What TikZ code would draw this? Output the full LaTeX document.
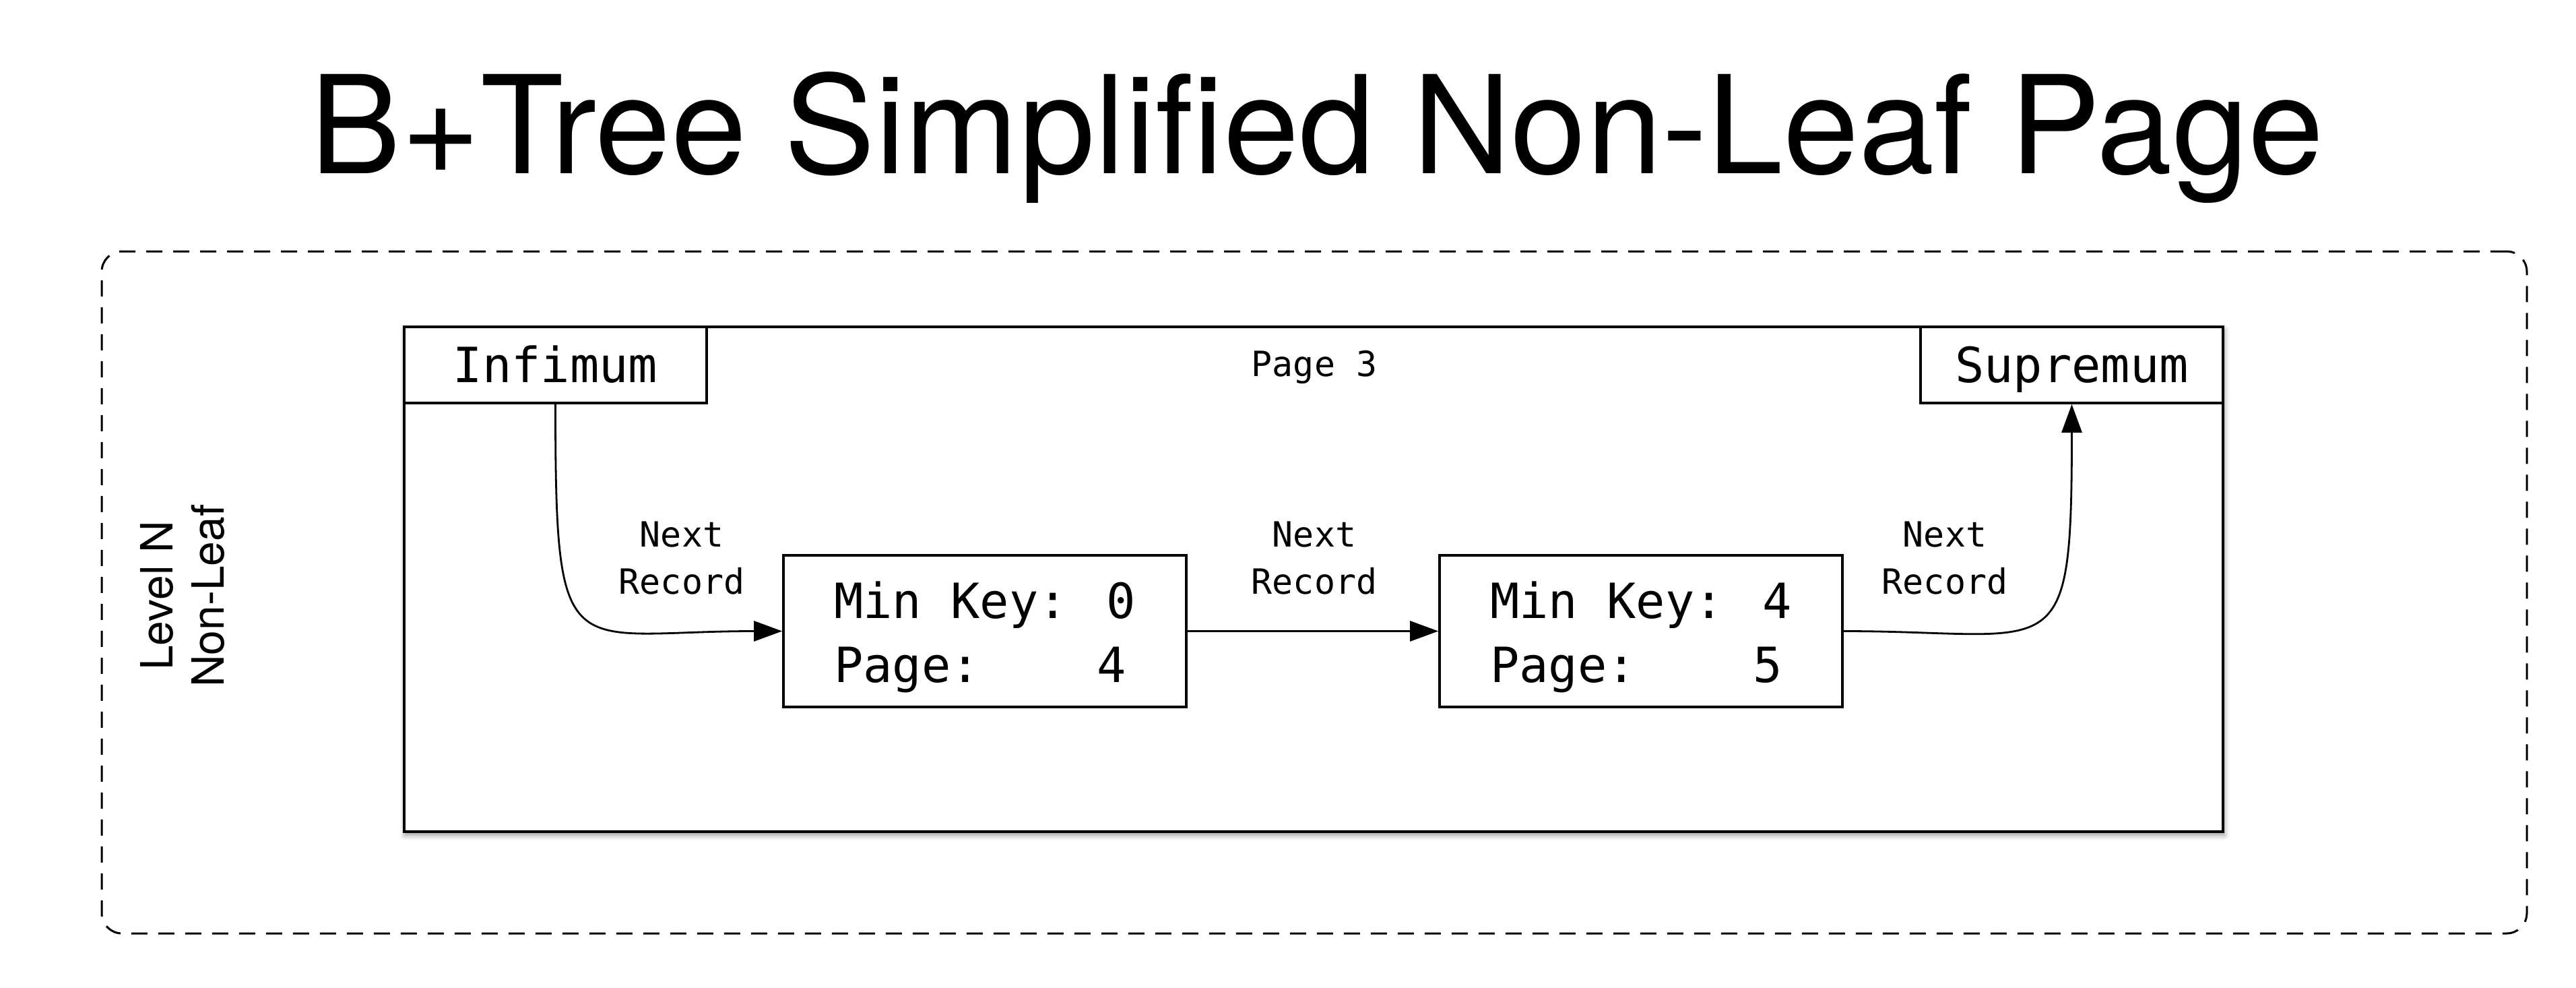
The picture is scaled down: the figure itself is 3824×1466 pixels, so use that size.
\documentclass[tikz,border=0pt]{standalone}
\usepackage{fontspec}
\setmainfont{TeX Gyre Heros}
\newfontfamily\codefont{DejaVu Sans Mono}
\usetikzlibrary{arrows.meta,shadows.blur}
\begin{document}
\begin{tikzpicture}[x=0.25pt,y=-0.25pt,
  box/.style={draw, line width=0.9pt, rectangle, inner sep=0pt, fill=white},
  keyfont/.style={font=\codefont\fontsize{18pt}{23.75pt}\selectfont},
  lblfont/.style={font=\codefont\fontsize{12.9pt}{17.5pt}\selectfont},
  endbox/.style={box, keyfont, minimum width=112.25pt, minimum height=28.25pt, text height=13pt, text depth=0pt},
  recbox/.style={box, keyfont, align=left, minimum width=149.5pt, minimum height=56.25pt},
  link/.style={line width=0.7pt, -{Triangle[length=10.5pt,width=7.5pt]}},
  frame/.style={draw, line width=0.75pt, dash pattern=on 6pt off 4pt, rounded corners=7.5pt, inner sep=0pt}
]
\useasboundingbox (0,0) rectangle (3824,1466);

% title
\node[font=\fontsize{50.5pt}{60pt}\selectfont, anchor=base, inner sep=0pt] (title) at (1955,258) {B+Tree Simplified Non-Leaf Page};

% dashed level frame
\node[frame, minimum width=900pt, minimum height=253pt] (level) at (1951,879) {};

% level text
\node[rotate=90, align=center, font=\fontsize{16.5pt}{19pt}\selectfont, inner sep=0pt] (lvl) at (271,884) {Level N\\Non-Leaf};

% page box
\node[draw, line width=1pt, fill=white, inner sep=0pt, minimum width=675pt, minimum height=187.25pt,
      blur shadow={shadow xshift=0.4pt, shadow yshift=-1.2pt, shadow blur radius=2pt, shadow opacity=45}] (page) at (1950,859.5) {};

\node[lblfont, anchor=base, inner sep=0pt] (p3) at (1951,558) {Page 3};

% infimum / supremum
\node[endbox] (inf) at (824.5,541.5) {Infimum};
\node[endbox] (sup) at (3075.5,541.5) {Supremum};

% records
\node[recbox] (rec1) at (1462,936.5) {\rule{0pt}{18.25pt}Min Key: 0\\Page:\hphantom{0000}4};
\node[recbox] (rec2) at (2436,936.5) {\rule{0pt}{18.25pt}Min Key: 4\\Page:\hphantom{0000}5};

% links
\draw[link] (inf.south) .. controls +(0,400) and +(-320,0) .. (rec1.west);
\draw[link] (rec1.east) -- (rec2.west);
\draw[link] (rec2.east) .. controls +(320,0) and +(0,400) .. (sup.south);

% link labels
\node[lblfont, align=center, inner sep=0pt] (l1) at (1012,828) {Next\\Record};
\node[lblfont, align=center, inner sep=0pt] (l2) at (1951,828) {Next\\Record};
\node[lblfont, align=center, inner sep=0pt] (l3) at (2887,828) {Next\\Record};
\end{tikzpicture}
\end{document}
